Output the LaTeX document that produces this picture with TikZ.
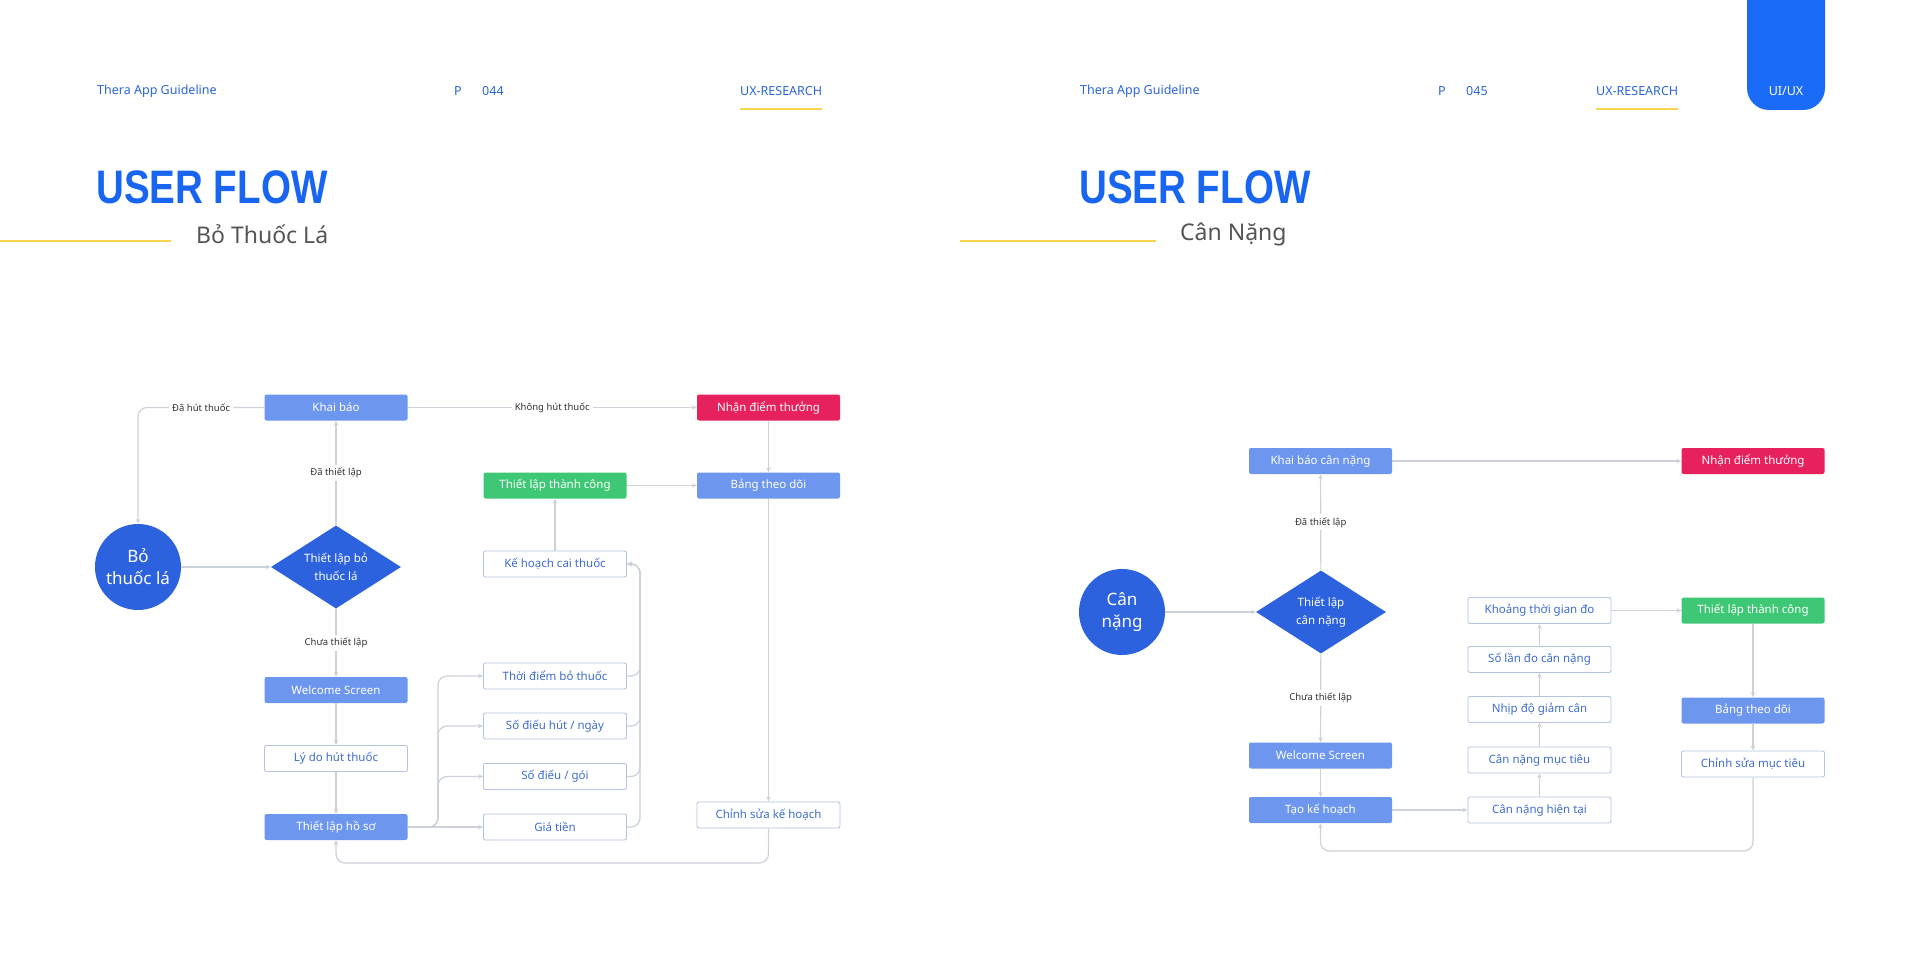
\documentclass[tikz,border=0pt]{standalone}
\usepackage{fontspec}
\setmainfont{Noto Sans}
\newfontfamily\titlefont{Liberation Sans}
\usetikzlibrary{shapes.geometric,arrows.meta,calc}
\definecolor{hdrblue}{HTML}{2B66D9}
\definecolor{titleblue}{HTML}{1765F0}
\definecolor{circblue}{HTML}{2D62DE}
\definecolor{lightbox}{HTML}{6D96EE}
\definecolor{pinkbox}{HTML}{E6215D}
\definecolor{greenbox}{HTML}{3EC775}
\definecolor{wbord}{HTML}{B3C3E0}
\definecolor{wtext}{HTML}{3F6DCF}
\definecolor{yel}{HTML}{F5D54E}
\definecolor{tabblue}{HTML}{1A6BF7}
\definecolor{conncol}{HTML}{CDD2DA}
\definecolor{subgray}{HTML}{555555}
\definecolor{lblgray}{HTML}{333333}
\begin{document}
\begin{tikzpicture}[x=1pt,y=-1pt,
  hdr/.style={font=\fontsize{12.5}{15}\selectfont, text=hdrblue, inner sep=0pt, anchor=west},
  ttl/.style={anchor=west, inner sep=0pt, text=titleblue, font=\titlefont\fontsize{47}{50}\selectfont\bfseries},
  sub/.style={anchor=west, inner sep=0pt, text=subgray, font=\fontsize{23}{26}\selectfont},
  boxbase/.style={rounded corners=2pt, minimum width=143pt, minimum height=26pt, inner sep=0pt,
     font=\fontsize{11.5}{14}\selectfont},
  bluebox/.style={boxbase, fill=lightbox, text=white},
  pinkb/.style={boxbase, fill=pinkbox, text=white},
  greenb/.style={boxbase, fill=greenbox, text=white},
  whiteb/.style={boxbase, fill=white, draw=wbord, line width=0.9pt, text=wtext},
  startc/.style={circle, fill=circblue, text=white, minimum size=86pt, inner sep=0pt, align=center,
     font=\fontsize{17}{22}\selectfont},
  decide/.style={diamond, fill=circblue, text=white, shape aspect=1.57, inner sep=0pt,
     minimum width=130pt, minimum height=83pt, align=center, font=\fontsize{11.5}{18}\selectfont},
  conn/.style={draw=conncol, line width=1.2pt},
  arr/.style={-{Stealth[length=5pt,width=4.5pt]}},
  lbl/.style={fill=white, text=lblgray, inner sep=3pt, font=\fontsize{9.5}{11}\selectfont},
  rc/.style={rounded corners=9pt}
]
\useasboundingbox (0,0) rectangle (1920,960);
\fill[white] (0,0) rectangle (1920,960);

% ---------- Left page header ----------
\node[hdr] (h1) at (97,91) {Thera App Guideline};
\node[hdr] (p1) at (454,91) {P};
\node[hdr] (n1) at (482,91) {044};
\node[hdr] (ux1) at (740,91) {UX-RESEARCH};
\coordinate (ul1) at (0,109);
\draw[yel, line width=2.5pt] (ux1.west |- ul1) -- (ux1.east |- ul1);
\node[ttl] (t1) at (96,187) {\scalebox{0.82}[1]{USER FLOW}};
\coordinate (y1a) at (0,241);
\coordinate (y1b) at (171,241);
\draw[yel, line width=2.5pt] (y1a) -- (y1b);
\node[sub] (s1) at (196,234) {Bỏ Thuốc Lá};

% ---------- Right page header ----------
\fill[tabblue, rounded corners=22pt] (1747,-40) rectangle (1825,110);
\node[font=\fontsize{12.5}{15}\selectfont, text=white, inner sep=0pt] (tab) at (1786,91) {UI/UX};
\node[hdr] (h2) at (1080,91) {Thera App Guideline};
\node[hdr] (p2) at (1438,91) {P};
\node[hdr] (n2) at (1466,91) {045};
\node[hdr] (ux2) at (1596,91) {UX-RESEARCH};
\draw[yel, line width=2.5pt] (ux2.west |- ul1) -- (ux2.east |- ul1);
\node[ttl] (t2) at (1079,187) {\scalebox{0.82}[1]{USER FLOW}};
\coordinate (y2a) at (960,241);
\coordinate (y2b) at (1156,241);
\draw[yel, line width=2.5pt] (y2a) -- (y2b);
\node[sub] (s2) at (1180,234) {Cân Nặng};

% ---------- Left flow ----------
\node[bluebox] (kb) at (336,407.5) {Khai báo};
\node[pinkb] (nd1) at (768.5,407.5) {Nhận điểm thưởng};
\node[greenb] (tltc1) at (555,485.5) {Thiết lập thành công};
\node[bluebox] (btd1) at (768.5,485.5) {Bảng theo dõi};
\node[startc] (c1) at (138,567) {Bỏ\\thuốc lá};
\node[decide] (d1) at (336,567) {Thiết lập bỏ\\thuốc lá};
\node[whiteb] (kh1) at (555,564) {Kế hoạch cai thuốc};
\node[bluebox] (wel1) at (336,690) {Welcome Screen};
\node[whiteb] (ly1) at (336,758.5) {Lý do hút thuốc};
\node[bluebox] (hs1) at (336,827) {Thiết lập hồ sơ};
\node[whiteb] (tdb) at (555,676) {Thời điểm bỏ thuốc};
\node[whiteb] (sdh) at (555,726) {Số điếu hút / ngày};
\node[whiteb] (sdg) at (555,776.5) {Số điếu / gói};
\node[whiteb] (gt) at (555,827) {Giá tiền};
\node[whiteb] (csk) at (768.5,815) {Chỉnh sửa kế hoạch};

\coordinate (trL) at (438,0);
\coordinate (trR) at (640,0);
\coordinate (loop1) at (0,863);

\draw[conn,arr,rc] (kb.west) -| node[lbl,pos=0.25]{Đã hút thuốc} (c1.north);
\draw[conn,arr] (kb.east) -- node[lbl]{Không hút thuốc} (nd1.west);
\draw[conn,arr] (c1) -- (d1);
\draw[conn,arr] (d1) -- node[lbl]{Đã thiết lập} (kb);
\draw[conn,arr] (d1) -- node[lbl]{Chưa thiết lập} (wel1);
\draw[conn,arr] (wel1) -- (ly1);
\draw[conn,arr] (ly1) -- (hs1);
\draw[conn,arr] (nd1) -- (btd1);
\draw[conn,arr] (tltc1) -- (btd1);
\draw[conn,arr] (kh1) -- (tltc1);
\draw[conn,arr] (btd1) -- (csk);
\draw[conn,arr] (hs1) -- (gt);
\draw[conn,arr,rc] (hs1.east) -- (hs1.east -| trL) |- (tdb.west);
\draw[conn,arr,rc] (hs1.east) -- (hs1.east -| trL) |- (sdh.west);
\draw[conn,arr,rc] (hs1.east) -- (hs1.east -| trL) |- (sdg.west);
\draw[conn,arr,rc] (gt.east) -- (gt.east -| trR) |- (kh1.east);
\draw[conn,arr,rc] (sdg.east) -- (sdg.east -| trR) |- (kh1.east);
\draw[conn,arr,rc] (sdh.east) -- (sdh.east -| trR) |- (kh1.east);
\draw[conn,arr,rc] (tdb.east) -- (tdb.east -| trR) |- (kh1.east);
\draw[conn,arr,rc] (csk.south) -- (csk.south |- loop1) -| (hs1.south);

% ---------- Right flow ----------
\node[bluebox] (kbcn) at (1320.5,461) {Khai báo cân nặng};
\node[pinkb] (nd2) at (1753,461) {Nhận điểm thưởng};
\node[startc] (c2) at (1122,612) {Cân\\nặng};
\node[decide] (d2) at (1321,612) {Thiết lập\\cân nặng};
\node[bluebox] (wel2) at (1320.5,755.5) {Welcome Screen};
\node[bluebox] (tkh) at (1320.5,810) {Tạo kế hoạch};
\node[whiteb] (ktg) at (1539.5,610.5) {Khoảng thời gian đo};
\node[whiteb] (sld) at (1539.5,659.5) {Số lần đo cân nặng};
\node[whiteb] (ndg) at (1539.5,709.5) {Nhịp độ giảm cân};
\node[whiteb] (cnm) at (1539.5,760) {Cân nặng mục tiêu};
\node[whiteb] (cnh) at (1539.5,810) {Cân nặng hiện tại};
\node[greenb] (tltc2) at (1753,610.5) {Thiết lập thành công};
\node[bluebox] (btd2) at (1753,710.5) {Bảng theo dõi};
\node[whiteb] (csm) at (1753,764) {Chỉnh sửa mục tiêu};

\coordinate (loop2) at (0,851);
\draw[conn,arr] (kbcn) -- (nd2);
\draw[conn,arr] (c2) -- (d2);
\draw[conn,arr] (d2) -- node[lbl]{Đã thiết lập} (kbcn);
\draw[conn,arr] (d2) -- node[lbl]{Chưa thiết lập} (wel2);
\draw[conn,arr] (wel2) -- (tkh);
\draw[conn,arr] (tkh) -- (cnh);
\draw[conn,arr] (cnh) -- (cnm);
\draw[conn,arr] (cnm) -- (ndg);
\draw[conn,arr] (ndg) -- (sld);
\draw[conn,arr] (sld) -- (ktg);
\draw[conn,arr] (ktg) -- (tltc2);
\draw[conn,arr] (tltc2) -- (btd2);
\draw[conn,arr] (btd2) -- (csm);
\draw[conn,arr,rc] (csm.south) -- (csm.south |- loop2) -| (tkh.south);
\end{tikzpicture}
\end{document}
